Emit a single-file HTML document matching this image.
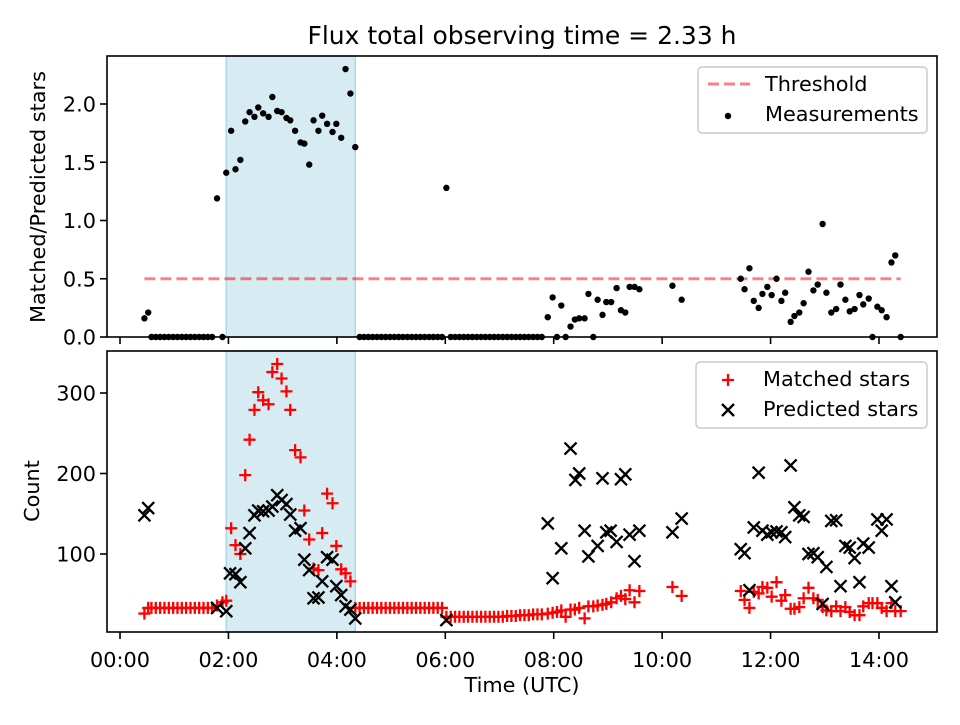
<!DOCTYPE html>
<html><head><meta charset="utf-8"><style>
html,body{margin:0;padding:0;background:#fff}
svg text{font-family:"DejaVu Sans","Liberation Sans",sans-serif;fill:#000}
</style></head><body>
<svg id="fig" width="960" height="720" viewBox="0 0 960 720" xmlns="http://www.w3.org/2000/svg"></svg>
<script>
// ---- data ----
const xTickHours = [0,2,4,6,8,10,12,14];
const xTickLabels = ["00:00","02:00","04:00","06:00","08:00","10:00","12:00","14:00"];
const topTicks = [0,0.5,1,1.5,2];
const topTickLabels = ["0.0","0.5","1.0","1.5","2.0"];
const botTicks = [100,200,300];
const botTickLabels = ["100","200","300"];
const shadeStart = 1.96, shadeEnd = 4.34;
const threshold = 0.5, thresholdStart = 0.45, thresholdEnd = 14.4;

const ratioTimes = [0.45,0.52,0.58,0.66,0.74,0.82,0.9,0.98,1.06,1.14,1.22,1.3,1.38,1.46,1.54,1.62,1.7,1.79,1.89,1.96,2.05,2.13,2.22,2.31,2.39,2.48,2.55,2.64,2.74,2.81,2.9,2.98,3.07,3.14,3.23,3.33,3.4,3.49,3.57,3.66,3.73,3.82,3.92,3.99,4.08,4.16,4.25,4.34,
4.42,4.5,4.58,4.66,4.74,4.82,4.9,4.98,5.06,5.14,5.22,5.3,5.38,5.46,5.54,5.62,5.7,5.78,5.86,5.94,6.02,
6.1,6.18,6.26,6.34,6.42,6.5,6.58,6.66,6.74,6.82,6.9,6.98,7.06,7.14,7.22,7.3,7.38,7.46,7.54,7.62,7.7,7.78,
7.89,7.98,8.06,8.14,8.22,8.31,8.39,8.47,8.57,8.64,8.73,8.81,8.9,8.97,9.06,9.16,9.24,9.32,9.4,9.49,9.58,10.19,10.36,
11.45,11.52,11.61,11.69,11.78,11.85,11.94,12.02,12.11,12.2,12.27,12.37,12.44,12.53,12.61,12.7,12.79,12.87,12.96,13.03,13.12,13.21,13.29,13.38,13.46,13.55,13.64,13.71,13.81,13.88,13.97,14.05,14.14,14.23,14.3,14.4];
const ratioValues = [0.16,0.21,0,0,0,0,0,0,0,0,0,0,0,0,0,0,0,1.19,0,1.41,1.77,1.44,1.52,1.85,1.93,1.89,1.97,1.92,1.89,2.06,1.94,1.93,1.88,1.86,1.77,1.67,1.66,1.48,1.86,1.77,1.9,1.83,1.76,1.83,1.71,2.3,2.09,1.63,
0,0,0,0,0,0,0,0,0,0,0,0,0,0,0,0,0,0,0,0,1.28,
0,0,0,0,0,0,0,0,0,0,0,0,0,0,0,0,0,0,0,0,0,0,
0.17,0.34,0,0.27,0,0.09,0.15,0.16,0.16,0.37,0,0.32,0.19,0.3,0.3,0.42,0.23,0.21,0.43,0.43,0.41,0.44,0.32,
0.5,0.41,0.59,0.31,0.25,0.37,0.43,0.36,0.5,0.31,0.38,0.13,0.18,0.21,0.29,0.56,0.4,0.45,0.97,0.38,0.21,0.24,0.45,0.32,0.22,0.24,0.36,0.28,0.33,0,0.26,0.23,0.17,0.64,0.7,0];

const matchedTimes = [0.45,0.52,0.58,0.66,0.74,0.82,0.9,0.98,1.06,1.14,1.22,1.3,1.38,1.46,1.54,1.62,1.7,1.79,1.89,1.96,2.05,2.13,2.22,2.31,2.39,2.48,2.55,2.64,2.74,2.81,2.9,2.98,3.07,3.14,3.23,3.33,3.4,3.49,3.57,3.66,3.73,3.82,3.92,3.99,4.08,4.16,4.25,4.34,
4.42,4.5,4.58,4.66,4.74,4.82,4.9,4.98,5.06,5.14,5.22,5.3,5.38,5.46,5.54,5.62,5.7,5.78,5.86,5.94,6.02,
6.1,6.18,6.26,6.34,6.42,6.5,6.58,6.66,6.74,6.82,6.9,6.98,7.06,7.14,7.22,7.3,7.38,7.46,7.54,7.62,7.7,7.78,
7.89,7.98,8.06,8.14,8.22,8.31,8.39,8.47,8.57,8.64,8.73,8.81,8.9,8.97,9.06,9.16,9.24,9.32,9.4,9.49,9.58,10.19,10.36,
11.45,11.52,11.61,11.69,11.78,11.85,11.94,12.02,12.11,12.2,12.27,12.37,12.44,12.53,12.61,12.7,12.79,12.87,12.96,13.03,13.12,13.21,13.29,13.38,13.46,13.55,13.64,13.71,13.81,13.88,13.97,14.05,14.14,14.23,14.3,14.4];
const matchedValues = [26,33,33,33,33,33,33,33,33,33,33,33,33,33,33,33,33,36,40,42,132,111,100,198,242,279,301,291,286,326,336,318,302,279,229,220,154,118,82,80,126,175,163,110,81,76,66,33,
33,33,33,33,33,33,33,33,33,33,33,33,33,33,33,33,33,33,33,33,22,
22,22,22,22,22,22,22,22,22,22,22,22,22,23,23,23,24,24,24,25,25,25,
26,27,28,30,22,31,31,33,20,35,35,36,37,38,40,45,48,44,55,40,54,59,48,
54,43,33,53,51,59,58,47,65,42,49,32,32,34,45,58,45,43,34,30,29,35,29,34,28,24,24,35,39,39,39,33,29,39,29,29];

const predictedTimes = [0.45,0.52,1.79,1.96,2.03,2.13,2.22,2.31,2.39,2.48,2.55,2.64,2.74,2.81,2.9,2.98,3.07,3.14,3.23,3.33,3.4,3.49,3.57,3.66,3.73,3.82,3.92,3.99,4.08,4.16,4.25,4.34,6.02,
7.89,7.98,8.14,8.31,8.4,8.47,8.57,8.64,8.81,8.9,8.97,9.05,9.16,9.24,9.32,9.4,9.49,9.58,10.19,10.36,
11.45,11.52,11.61,11.69,11.78,11.85,11.94,12.02,12.11,12.2,12.27,12.37,12.44,12.53,12.61,12.7,12.79,12.87,12.96,13.03,13.12,13.21,13.29,13.38,13.46,13.55,13.64,13.71,13.81,13.97,14.05,14.14,14.23,14.3];
const predictedValues = [148,157,33,29,76,75,65,107,126,148,154,153,154,159,173,167,162,149,129,132,93,80,45,46,66,96,93,60,49,35,31,20,18,
138,70,107,231,192,200,129,97,110,194,127,129,115,193,199,124,91,129,127,144,
106,101,55,133,201,129,124,127,128,127,121,210,158,148,146,100,101,96,38,84,141,142,60,110,108,95,65,113,108,143,129,143,60,40];

// ---- layout ----
const svg = document.getElementById('fig');
const NS = 'http://www.w3.org/2000/svg';
const L = 107, R = 937;
const TT = 56, TB = 337, BT = 351, BB = 632;
const xMin = -0.24, xMax = 15.07;
const x = h => L + (h - xMin) / (xMax - xMin) * (R - L);
const yTop = v => TB - v * 116.5;
const yBot = v => 554 - (v - 100) * 0.805;

function mk(tag, attrs, parent) {
  const e = document.createElementNS(NS, tag);
  for (const k in attrs) e.setAttribute(k, attrs[k]);
  (parent || svg).appendChild(e);
  return e;
}

// title
let t = mk('text', {x: 522, y: 44, 'text-anchor': 'middle', 'font-size': 25});
t.textContent = 'Flux total observing time = 2.33 h';



function panel(top, bottom, name) {
  const g = mk('g', {});
  
  
  const s = mk('rect', {x: x(shadeStart), y: top, width: x(shadeEnd) - x(shadeStart), height: bottom - top, fill: '#add8e6', 'fill-opacity': 0.5, stroke: '#add8e6', 'stroke-width': 1.5}, g);
  
  
  return g;
}
function frame(top, bottom, g) {
  const f = mk('rect', {x: L, y: top, width: R - L, height: bottom - top, fill: 'none', stroke: '#000', 'stroke-width': 1.6}, g);
  
  
  xTickHours.forEach((h, i) => {
    const tk = mk('line', {x1: x(h), x2: x(h), y1: bottom, y2: bottom + 7, stroke: '#000', 'stroke-width': 1.6}, g);
    
    
  });
}

// ---- top panel ----
const gTop = panel(TT, TB, 'ratio-panel');
const thr = mk('line', {x1: x(thresholdStart), x2: x(thresholdEnd), y1: yTop(threshold), y2: yTop(threshold), stroke: '#ff0000', 'stroke-opacity': 0.5, 'stroke-width': 3, 'stroke-dasharray': '11,5'}, gTop);


ratioTimes.forEach((h, i) => {
  const c = mk('circle', {cx: x(h), cy: yTop(ratioValues[i]), r: 3.2, fill: '#000'}, gTop);
  
  
});
frame(TT, TB, gTop);
topTicks.forEach((v, i) => {
  mk('line', {x1: L - 7, x2: L, y1: yTop(v), y2: yTop(v), stroke: '#000', 'stroke-width': 1.6}, gTop);
  const lb = mk('text', {x: L - 11, y: yTop(v) + 7.5, 'text-anchor': 'end', 'font-size': 20.8}, gTop);
  lb.textContent = topTickLabels[i];
  
  
});
let yl = mk('text', {x: 0, y: 0, 'text-anchor': 'middle', 'font-size': 20.8, transform: 'translate(45,197) rotate(-90)'});
yl.textContent = 'Matched/Predicted stars';



// top legend
const lg1 = mk('g', {});


mk('rect', {x: 698, y: 67, width: 229, height: 66, rx: 4, fill: '#fff', 'fill-opacity': 0.8, stroke: '#ccc', 'stroke-width': 1.5}, lg1);
mk('line', {x1: 708, x2: 750, y1: 84, y2: 84, stroke: '#ff0000', 'stroke-opacity': 0.5, 'stroke-width': 3, 'stroke-dasharray': '11,5'}, lg1);
let lt = mk('text', {x: 765, y: 91, 'font-size': 20.8}, lg1); lt.textContent = 'Threshold';


mk('circle', {cx: 728, cy: 116, r: 3.2, fill: '#000'}, lg1);
lt = mk('text', {x: 765, y: 121, 'font-size': 20.8}, lg1); lt.textContent = 'Measurements';



// ---- bottom panel ----
const gBot = panel(BT, BB, 'count-panel');
function plus(cx, cy, g) {
  return mk('path', {d: `M${cx-6},${cy}H${cx+6}M${cx},${cy-6}V${cy+6}`, stroke: '#ff0000', 'stroke-width': 2.3, fill: 'none'}, g);
}
function cross(cx, cy, g) {
  return mk('path', {d: `M${cx-6},${cy-6}L${cx+6},${cy+6}M${cx-6},${cy+6}L${cx+6},${cy-6}`, stroke: '#000', 'stroke-width': 2.3, fill: 'none'}, g);
}
matchedTimes.forEach((h, i) => {
  const p = plus(x(h), yBot(matchedValues[i]), gBot);
  
  
});
predictedTimes.forEach((h, i) => {
  const p = cross(x(h), yBot(predictedValues[i]), gBot);
  
  
});
frame(BT, BB, gBot);
botTicks.forEach((v, i) => {
  mk('line', {x1: L - 7, x2: L, y1: yBot(v), y2: yBot(v), stroke: '#000', 'stroke-width': 1.6}, gBot);
  const lb = mk('text', {x: L - 11, y: yBot(v) + 7.5, 'text-anchor': 'end', 'font-size': 20.8}, gBot);
  lb.textContent = botTickLabels[i];
  
  
});
xTickHours.forEach((h, i) => {
  const lb = mk('text', {x: x(h), y: 667, 'text-anchor': 'middle', 'font-size': 20.8}, gBot);
  lb.textContent = xTickLabels[i];
  
  
});
yl = mk('text', {x: 0, y: 0, 'text-anchor': 'middle', 'font-size': 20.8, transform: 'translate(39,491) rotate(-90)'});
yl.textContent = 'Count';


let xl = mk('text', {x: 522, y: 692, 'text-anchor': 'middle', 'font-size': 20.8});
xl.textContent = 'Time (UTC)';



// bottom legend
const lg2 = mk('g', {});


mk('rect', {x: 696, y: 362, width: 231, height: 66, rx: 4, fill: '#fff', 'fill-opacity': 0.8, stroke: '#ccc', 'stroke-width': 1.5}, lg2);
plus(728, 380, lg2);
lt = mk('text', {x: 763, y: 386, 'font-size': 20.8}, lg2); lt.textContent = 'Matched stars';


cross(728, 410, lg2);
lt = mk('text', {x: 763, y: 416, 'font-size': 20.8}, lg2); lt.textContent = 'Predicted stars';


</script>
</body></html>
